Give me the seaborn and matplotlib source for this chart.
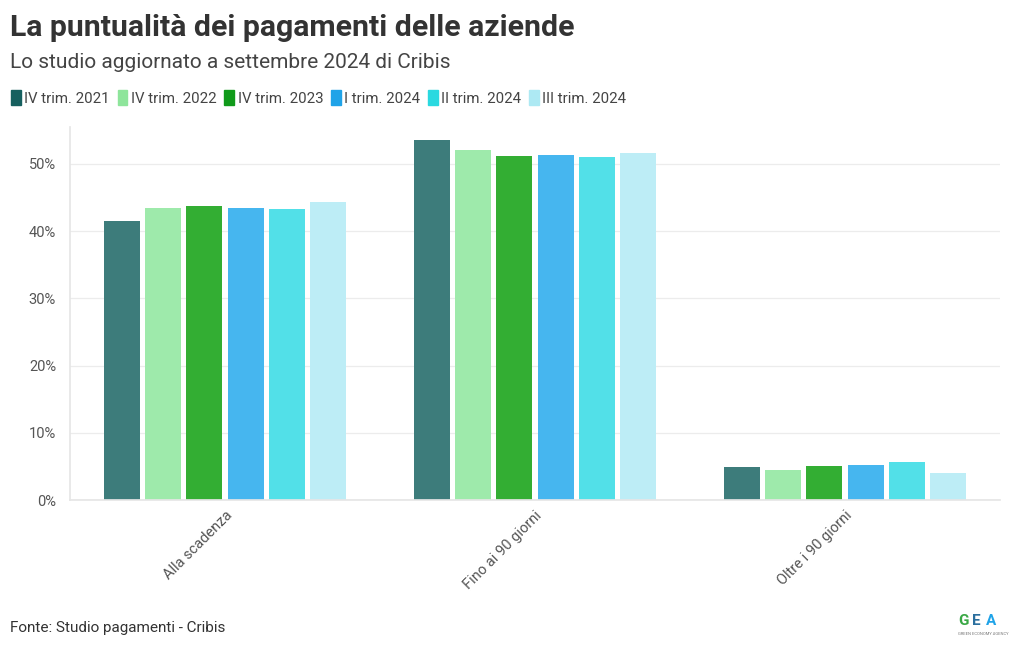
import matplotlib
matplotlib.use("Agg")
import matplotlib.pyplot as plt
import seaborn as sns
import pandas as pd
from matplotlib.patches import FancyBboxPatch
from matplotlib.ticker import FuncFormatter

categories = ["Alla scadenza", "Fino ai 90 giorni", "Oltre i 90 giorni"]
series = ["IV trim. 2021", "IV trim. 2022", "IV trim. 2023", "I trim. 2024", "II trim. 2024", "III trim. 2024"]
v_2021q4 = [41.5, 53.6, 4.9]
v_2022q4 = [43.5, 52.1, 4.4]
v_2023q4 = [43.7, 51.2, 5.1]
v_2024q1 = [43.4, 51.3, 5.25]
v_2024q2 = [43.3, 51.0, 5.7]
v_2024q3 = [44.3, 51.7, 4.0]

legend_colors = ["#16605f", "#8ee59b", "#109a1a", "#1fa3e8", "#2ad9e0", "#ade9f3"]
bar_colors = ["#3d7c7b", "#9eeaab", "#33ae33", "#46b6ef", "#52e0e8", "#bdedf6"]

values = [v_2021q4, v_2022q4, v_2023q4, v_2024q1, v_2024q2, v_2024q3]
rows = []
for s, vals in zip(series, values):
    for c, v in zip(categories, vals):
        rows.append({"Categoria": c, "Periodo": s, "Valore": v})
df = pd.DataFrame(rows)

sns.set_theme(style="white")
plt.rcParams["font.family"] = ["Roboto", "DejaVu Sans"]

fig = plt.figure(figsize=(10.2, 6.5), dpi=100)
ax = fig.add_axes([70 / 1020, 1 - 500 / 650, 930 / 1020, 373 / 650])

sns.barplot(data=df, x="Categoria", y="Valore", hue="Periodo", order=categories,
            hue_order=series, palette=bar_colors, width=0.8, gap=0.13,
            saturation=1, ax=ax, legend=False, edgecolor="none")

ax.set_xlim(-0.5, 2.5)
ax.set_ylim(0, 55.5)
ax.set_yticks([0, 10, 20, 30, 40, 50])
ax.yaxis.set_major_formatter(FuncFormatter(lambda v, p: f"{int(v)}%"))
ax.grid(axis="y", color="#ececec", linewidth=0.9)
ax.set_axisbelow(True)
ax.set_xlabel("")
ax.set_ylabel("")
for side in ["top", "right"]:
    ax.spines[side].set_visible(False)
ax.spines["left"].set_color("#e6e6e6")
ax.spines["bottom"].set_color("#e6e6e6")
ax.tick_params(axis="y", colors="#555555", labelsize=10.5, length=6, color="#e6e6e6", pad=4)
ax.tick_params(axis="x", colors="#555555", labelsize=10.5, length=0, pad=6)
for lab in ax.get_xticklabels():
    lab.set_rotation(45)
    lab.set_ha("right")
    lab.set_rotation_mode("anchor")

fig.text(10 / 1020, 1 - 28 / 650, "La puntualità dei pagamenti delle aziende",
         fontsize=21.8, fontweight="bold", color="#333333", va="center", ha="left")
fig.text(10 / 1020, 1 - 63 / 650, "Lo studio aggiornato a settembre 2024 di Cribis",
         fontsize=15, color="#444444", va="center", ha="left")
fig.text(10 / 1020, 1 - 628 / 650, "Fonte: Studio pagamenti - Cribis",
         fontsize=11, color="#333333", va="center", ha="left")

# legend
handles = [FancyBboxPatch((0, 0), 1, 1, boxstyle="round,pad=0.1", color=c) for c in legend_colors]
leg = fig.legend(handles, series, loc="center left", bbox_to_anchor=(5 / 1020, 1 - 98 / 650),
                 ncol=6, frameon=False, handlelength=0.65, handleheight=1.1, handletextpad=0.25,
                 columnspacing=0.5, fontsize=10.8, labelcolor="#444444", borderaxespad=0)

# logo
fig.text(958 / 1020, 1 - 621 / 650, "G", color="#3aa845", fontsize=11, fontweight="bold", va="center")
fig.text(972 / 1020, 1 - 621 / 650, "E", color="#2b6f9e", fontsize=11, fontweight="bold", va="center")
fig.text(986 / 1020, 1 - 621 / 650, "A", color="#1fa3e8", fontsize=11, fontweight="bold", va="center")
fig.text(958 / 1020, 1 - 634 / 650, "GREEN ECONOMY AGENCY", color="#777777", fontsize=3, va="center")

fig.savefig("out.png", dpi=100)
